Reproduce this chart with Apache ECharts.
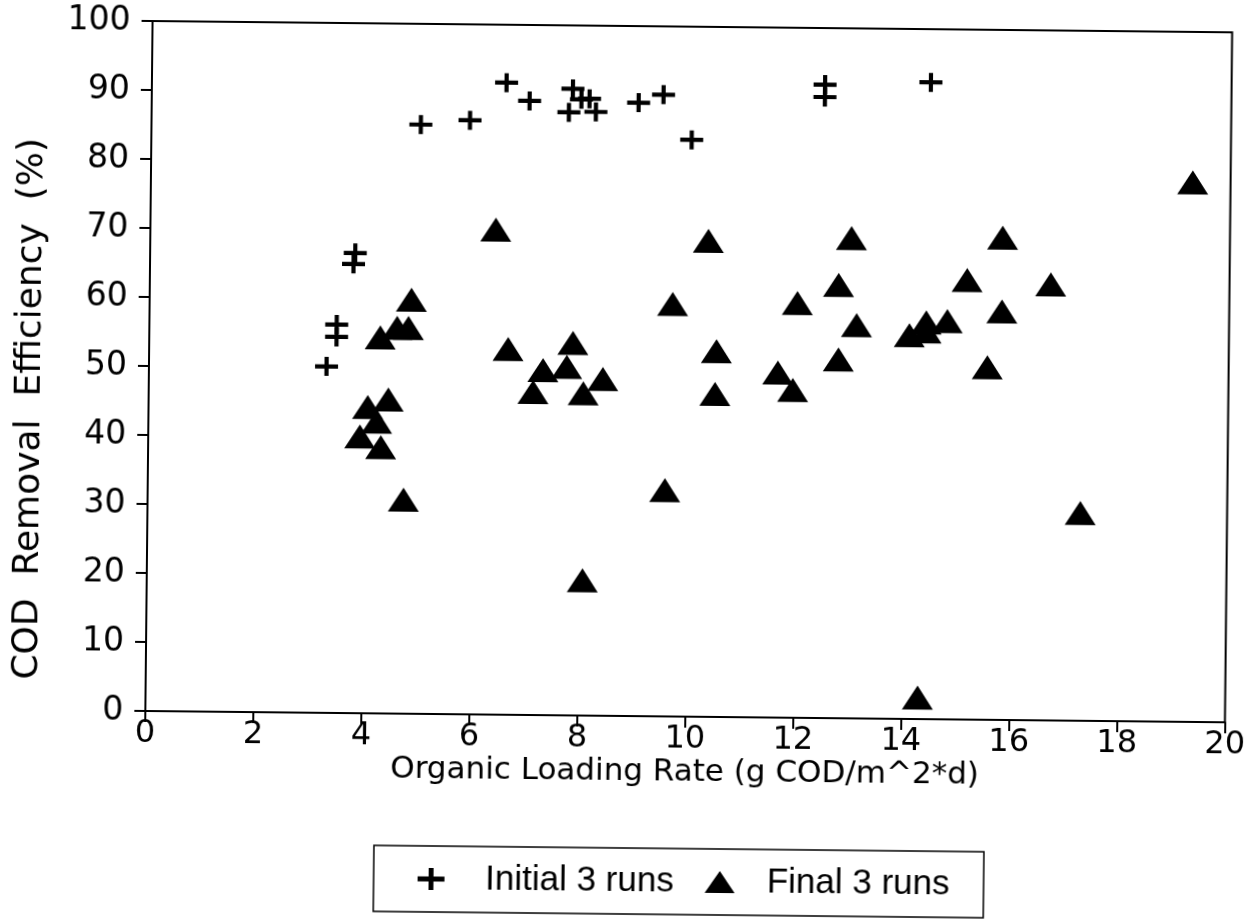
<!DOCTYPE html>
<html>
<head>
<meta charset="utf-8">
<script src="https://cdn.jsdelivr.net/npm/echarts@6/dist/echarts.min.js"></script>
<style>
  html, body { margin: 0; padding: 0; background: #fff; overflow: hidden; }
  /* the printed sheet sits slightly askew */
  #chart { width: 1251px; height: 919px; transform: rotate(0.6deg); transform-origin: 50% 50%; }
</style>
</head>
<body>
<div id="chart"></div>
<script>
// Organic loading rate (g COD/m^2*d) and COD removal efficiency (%)
const initialRate = [3.29, 3.47, 3.47, 3.80, 3.77, 4.99, 5.90, 6.57, 7.00, 7.80,
                     7.73, 7.96, 8.11, 8.23, 9.02, 9.48, 10.01, 12.47, 12.47, 14.43];
const initialEff  = [50.2, 56.3, 54.5, 66.7, 65.1, 85.4, 86.1, 91.6, 89.0, 90.8,
                     87.4, 89.3, 89.4, 87.5, 88.9, 90.1, 83.6, 91.8, 90.0, 92.3];

const finalRate = [6.40, 4.85, 4.59, 4.80, 4.28, 6.65, 7.85, 7.30, 7.74, 8.41,
                   7.12, 8.05, 4.44, 4.06, 4.23, 3.92, 4.31, 4.74, 8.07, 9.58,
                   9.69, 10.34, 10.51, 10.49, 11.65, 11.93, 12.00, 12.77, 12.76, 12.99,
                   13.10, 14.08, 14.39, 14.39, 14.78, 15.14, 15.53, 15.79, 15.79, 16.69,
                   17.28, 19.30, 14.30];
const finalEff  = [70.3, 60.0, 55.9, 55.9, 54.5, 53.0, 54.0, 50.0, 50.5, 48.8,
                   46.8, 46.7, 45.5, 44.4, 42.3, 40.1, 38.6, 31.0, 19.6, 32.8,
                   59.8, 69.0, 53.0, 46.8, 50.0, 47.5, 60.1, 52.0, 62.8, 69.6,
                   57.0, 55.6, 57.5, 56.2, 57.7, 63.7, 51.1, 59.2, 69.9, 63.2,
                   30.1, 78.2, 3.1];

const xTicks = [0, 2, 4, 6, 8, 10, 12, 14, 16, 18, 20];
const yTicks = [0, 10, 20, 30, 40, 50, 60, 70, 80, 90, 100];

const seriesNames = ['Initial 3 runs', 'Final 3 runs'];

const plusIcon = 'path://M0,7H22V11H0Z M9,0H13V18H9Z';

const pairs = (xs, ys) => xs.map((x, i) => [x, ys[i]]);

const axisFont = 'DejaVu Sans, sans-serif';

const chart = echarts.init(document.getElementById('chart'), null, { renderer: 'canvas' });

chart.setOption({
  animation: false,
  backgroundColor: '#ffffff',
  grid: {
    left: 148, right: 21, top: 26, height: 690,
    show: true, borderColor: '#000', borderWidth: 2, backgroundColor: 'transparent'
  },
  xAxis: {
    type: 'value',
    min: xTicks[0], max: xTicks[xTicks.length - 1], interval: 2,
    name: 'Organic Loading Rate (g COD/m^2*d)',
    nameLocation: 'middle', nameGap: 40, nameMoveOverlap: false,
    nameTextStyle: { fontFamily: axisFont, fontSize: 31, color: '#000' },
    axisLine: { show: true, onZero: false, lineStyle: { color: '#000', width: 2 } },
    axisTick: { show: true, inside: false, length: 11, lineStyle: { color: '#000', width: 2 } },
    axisLabel: { fontFamily: axisFont, fontSize: 32, color: '#000', margin: 7 },
    splitLine: { show: false }
  },
  yAxis: {
    type: 'value',
    min: yTicks[0], max: yTicks[yTicks.length - 1], interval: 10,
    name: 'COD  Removal  Efficiency  (%)',
    nameLocation: 'middle', nameGap: 100, nameRotate: 90, nameMoveOverlap: false,
    nameTextStyle: { fontFamily: axisFont, fontSize: 36, color: '#000', padding: [0, 88, 0, 0] },
    axisLine: { show: true, onZero: false, lineStyle: { color: '#000', width: 2 } },
    axisTick: { show: true, inside: false, length: 11, lineStyle: { color: '#000', width: 2 } },
    axisLabel: { fontFamily: axisFont, fontSize: 33, color: '#000', margin: 22 },
    splitLine: { show: false }
  },
  legend: {
    left: 378, top: 848,
    orient: 'horizontal',
    borderColor: '#000', borderWidth: 1.5,
    padding: [13, 34, 13, 44],
    itemGap: 31,
    itemWidth: 30, itemHeight: 22,
    textStyle: { fontFamily: 'Liberation Sans, Arial, sans-serif', fontSize: 35, lineHeight: 40, color: '#000' },
    data: [
      { name: seriesNames[0], icon: plusIcon, textStyle: { padding: [0, 0, 0, 34] } },
      { name: seriesNames[1], icon: 'triangle', textStyle: { padding: [0, 0, 0, 27] } }
    ]
  },
  series: [
    {
      name: seriesNames[0],
      type: 'scatter',
      symbol: plusIcon,
      symbolSize: [23, 19],
      itemStyle: { color: '#000', opacity: 1 },
      data: pairs(initialRate, initialEff)
    },
    {
      name: seriesNames[1],
      type: 'scatter',
      symbol: 'triangle',
      symbolSize: [31, 24],
      itemStyle: { color: '#000', opacity: 1 },
      data: pairs(finalRate, finalEff)
    }
  ]
});
</script>
</body>
</html>
